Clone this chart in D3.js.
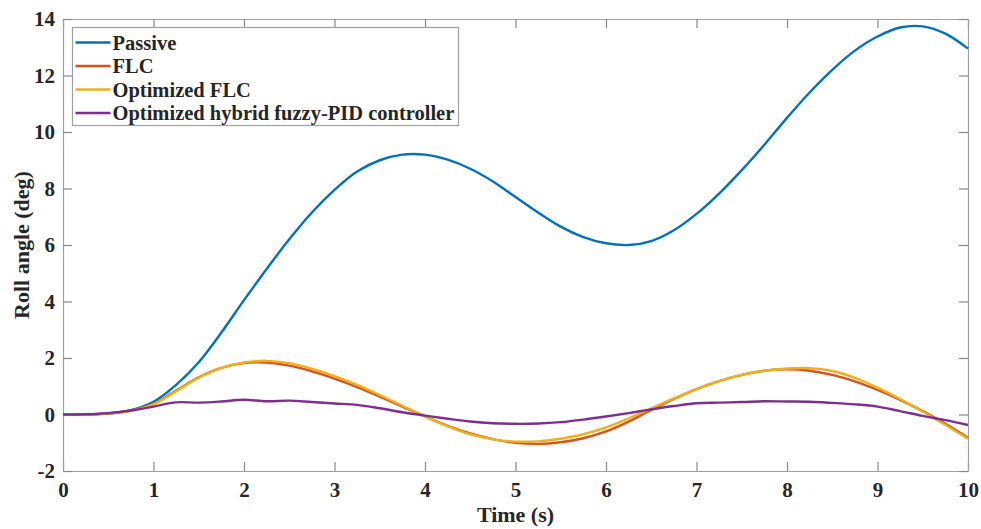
<!DOCTYPE html>
<html>
<head>
<meta charset="utf-8">
<script src="https://cdn.jsdelivr.net/npm/d3@7"></script>
<style>
  html, body { margin: 0; padding: 0; background: #fff; }
  svg { display: block; font-family: "Liberation Serif", "Times New Roman", serif; font-weight: bold; }
</style>
</head>
<body>
<svg id="chart" width="981" height="529"></svg>
<script>
const time = d3.range(0, 10.001, 0.25);

const passive = [0, 0.0, 0.03, 0.15, 0.45, 1.05, 1.85, 2.9, 4.05, 5.15, 6.2, 7.15, 7.95, 8.6, 9.0, 9.2, 9.2,
  9.02, 8.7, 8.25, 7.7, 7.15, 6.65, 6.28, 6.06, 6.0, 6.14, 6.52, 7.1, 7.82, 8.65, 9.55, 10.5, 11.4, 12.2,
  12.88, 13.38, 13.7, 13.74, 13.48, 12.95];

const flc = [0, 0.0, 0.04, 0.14, 0.38, 0.85, 1.32, 1.65, 1.82, 1.84, 1.73, 1.53, 1.27, 0.97, 0.63, 0.28, -0.07,
  -0.4, -0.67, -0.87, -1.0, -1.04, -0.98, -0.84, -0.6, -0.25, 0.16, 0.55, 0.9, 1.18, 1.4, 1.55, 1.6,
  1.55, 1.4, 1.17, 0.87, 0.52, 0.12, -0.33, -0.82];

const optFlc = [0, 0.0, 0.04, 0.13, 0.36, 0.82, 1.3, 1.65, 1.84, 1.9, 1.82, 1.62, 1.36, 1.05, 0.69, 0.31, -0.07,
  -0.42, -0.7, -0.88, -0.96, -0.95, -0.86, -0.7, -0.46, -0.14, 0.22, 0.57, 0.9, 1.18, 1.4, 1.55, 1.63,
  1.64, 1.54, 1.3, 0.95, 0.55, 0.1, -0.37, -0.86];

const hybrid = [0, 0.01, 0.05, 0.14, 0.28, 0.43, 0.42, 0.46, 0.52, 0.47, 0.49, 0.44, 0.39, 0.34, 0.22, 0.08,
  -0.04, -0.15, -0.25, -0.31, -0.33, -0.32, -0.27, -0.18, -0.07, 0.05, 0.18, 0.3, 0.4, 0.42, 0.44, 0.47,
  0.46, 0.45, 0.41, 0.36, 0.28, 0.12, -0.05, -0.2, -0.37];

const seriesNames = ["Passive", "FLC", "Optimized FLC", "Optimized hybrid fuzzy-PID controller"];
const seriesValues = [passive, flc, optFlc, hybrid];
const seriesColors = ["#0072BD", "#D95319", "#EDB120", "#7E2F8E"];

const xTicks = d3.range(0, 11, 1);
const yTicks = d3.range(-2, 15, 2);

// Layout
const MARGIN = { top: 19, right: 13, bottom: 58, left: 63 };
const W = 981, H = 529;
const innerW = W - MARGIN.left - MARGIN.right;
const innerH = H - MARGIN.top - MARGIN.bottom;
const AXIS_COLOR = "#a0a0a0";
const TEXT_COLOR = "#262626";
const FONT = '"Liberation Serif", "Times New Roman", serif';

const svg = d3.select("#chart");
const g = svg.append("g").attr("transform", `translate(${MARGIN.left},${MARGIN.top})`);

const x = d3.scaleLinear().domain([0, 10]).range([0, innerW]);
const y = d3.scaleLinear().domain([-2, 14]).range([innerH, 0]);
const plain = (v) => String(v); // hyphen minus like the original

// Axes (ticks point inward, box on)
function styleAxis(sel, labels) {
  sel.attr("font-family", FONT).attr("font-weight", "bold");
  sel.selectAll(".domain").attr("stroke", AXIS_COLOR).attr("stroke-width", 1.2);
  sel.selectAll(".tick line").attr("stroke", "#888").attr("stroke-width", 1.2);
  sel.selectAll(".tick text")
    .attr("fill", TEXT_COLOR)
    .style("font-size", labels ? "21px" : "0px")
    .style("font-family", FONT)
    .style("font-weight", "bold");
}

g.append("g").attr("transform", `translate(0,${innerH})`)
  .call(d3.axisBottom(x).tickValues(xTicks).tickFormat(plain).tickSize(-9).tickPadding(11).tickSizeOuter(0))
  .call((s) => styleAxis(s, true));
g.append("g")
  .call(d3.axisTop(x).tickValues(xTicks).tickSize(-9).tickFormat("").tickSizeOuter(0))
  .call((s) => styleAxis(s, false));
g.append("g")
  .call(d3.axisLeft(y).tickValues(yTicks).tickFormat(plain).tickSize(-9).tickPadding(8).tickSizeOuter(0))
  .call((s) => styleAxis(s, true));
g.append("g").attr("transform", `translate(${innerW},0)`)
  .call(d3.axisRight(y).tickValues(yTicks).tickSize(-9).tickFormat("").tickSizeOuter(0))
  .call((s) => styleAxis(s, false));

// Lines
const line = d3.line()
  .x((d, i) => x(time[i]))
  .y((d) => y(d))
  .curve(d3.curveCatmullRom.alpha(0.5));

g.append("g").attr("class", "lines")
  .selectAll("path")
  .data(seriesValues)
  .join("path")
  .attr("d", line)
  .attr("fill", "none")
  .attr("stroke", (d, i) => seriesColors[i])
  .attr("stroke-width", 2.4)
  .attr("stroke-linejoin", "round");

// Axis labels
g.append("text")
  .attr("x", innerW / 2)
  .attr("y", innerH + 51)
  .attr("text-anchor", "middle")
  .attr("fill", TEXT_COLOR)
  .style("font-size", "22px")
  .text("Time (s)");

g.append("text")
  .attr("transform", "rotate(-90)")
  .attr("x", -innerH / 2)
  .attr("y", -34)
  .attr("text-anchor", "middle")
  .attr("fill", TEXT_COLOR)
  .style("font-size", "22px")
  .text("Roll angle (deg)");

// Legend
const legend = g.append("g").attr("transform", "translate(9.5,8.5)");
legend.append("rect")
  .attr("width", 386)
  .attr("height", 98)
  .attr("fill", "#fff")
  .attr("stroke", AXIS_COLOR)
  .attr("stroke-width", 1.2);

const items = legend.selectAll(".item")
  .data(seriesNames)
  .join("g")
  .attr("class", "item")
  .attr("transform", (d, i) => `translate(0,${15 + i * 23.5})`);

items.append("line")
  .attr("x1", 3).attr("x2", 38)
  .attr("stroke", (d, i) => seriesColors[i])
  .attr("stroke-width", 2.4);

items.append("text")
  .attr("x", 40)
  .attr("dy", "0.35em")
  .attr("fill", TEXT_COLOR)
  .style("font-size", "20.5px")
  .text((d) => d);
</script>
</body>
</html>
